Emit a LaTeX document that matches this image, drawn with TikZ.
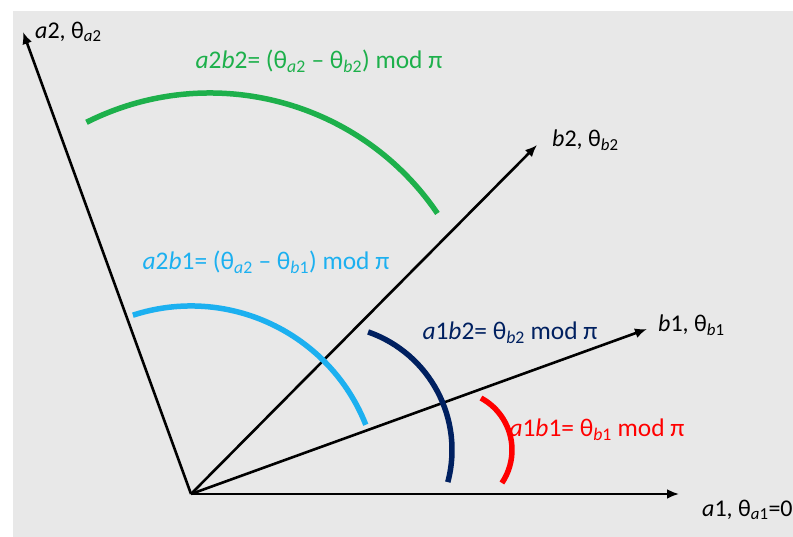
\documentclass[tikz,border=0pt]{standalone}
\usepackage{fontspec}
\setmainfont{Carlito}
\usepackage{tikz}
\usetikzlibrary{
  arrows.meta,
  positioning
}
\definecolor{PanelGray}{RGB}{232, 232, 232}
\definecolor{ArcGreen}{RGB}{29, 176, 75}
\definecolor{ArcSky}{RGB}{28, 176, 240}
\definecolor{ArcNavy}{RGB}{0, 32, 96}
\definecolor{ArcRed}{RGB}{255, 0, 0}
\newcommand{\va}{\textit{a}}
\newcommand{\vb}{\textit{b}}
\tikzset{
    axis/.style={line width=2.6pt, -{Latex[length=12pt, width=10pt]}},
    angarc/.style={line width=5.5pt},
    axlabel/.style={anchor=west, inner sep=0pt, font=\fontsize{24}{28}\selectfont},
    anglabel/.style={inner sep=0pt, font=\fontsize{25.4}{30}\selectfont}
}

\begin{document}
\begin{tikzpicture}[x=1pt, y=1pt]
            \useasboundingbox (0,0) rectangle (793,537);
            \fill[PanelGray] (13,0) rectangle (793,526);
            % axes
            \coordinate (O) at (191,43);
            \coordinate (a1) at (679,43);
            \coordinate (b1) at (647,208);
            \coordinate (b2) at (537,392);
            \coordinate (a2) at (23,505);
            \draw[axis] (O) -- (a1);
            \draw[axis] (O) -- (b1);
            \draw[axis] (O) -- (b2);
            \draw[axis] (O) -- (a2);
            \node[axlabel] (a1lbl) at (702,27) {\va1, θ\textsubscript{\va1}=0};
            \node[axlabel] (b1lbl) at (658,212) {\vb1, θ\textsubscript{\vb1}};
            \node[axlabel] (b2lbl) at (552,397) {\vb2, θ\textsubscript{\vb2}};
            \node[axlabel] (a2lbl) at (35,505) {\va2, θ\textsubscript{\va2}};
            % angle arcs
            \draw[angarc, ArcGreen, shift={(210,169)}] (116.7:275) arc[start angle=116.7, end angle=34.2, radius=275];
            \draw[angarc, ArcSky, shift={(191,43)}] (108:188) arc[start angle=108, end angle=21.6, radius=188];
            \draw[angarc, ArcNavy, shift={(327,87)}] (70.8:125) arc[start angle=70.8, end angle=-14.9, radius=125];
            \draw[angarc, ArcRed, shift={(453,87)}] (61.7:59) arc[start angle=61.7, end angle=-34, radius=59];
            \node[anglabel, text=ArcGreen] (a2b2) at (319,476) {\va2\vb2= (θ\textsubscript{\va2} – θ\textsubscript{\vb2}) mod π};
            \node[anglabel, text=ArcSky] (a2b1) at (266,275) {\va2\vb1= (θ\textsubscript{\va2} – θ\textsubscript{\vb1}) mod π};
            \node[anglabel, text=ArcNavy] (a1b2) at (510,204) {\va1\vb2= θ\textsubscript{\vb2} mod π};
            \node[anglabel, text=ArcRed] (a1b1) at (597,107) {\va1\vb1= θ\textsubscript{\vb1} mod π};
        \end{tikzpicture}
\end{document}
